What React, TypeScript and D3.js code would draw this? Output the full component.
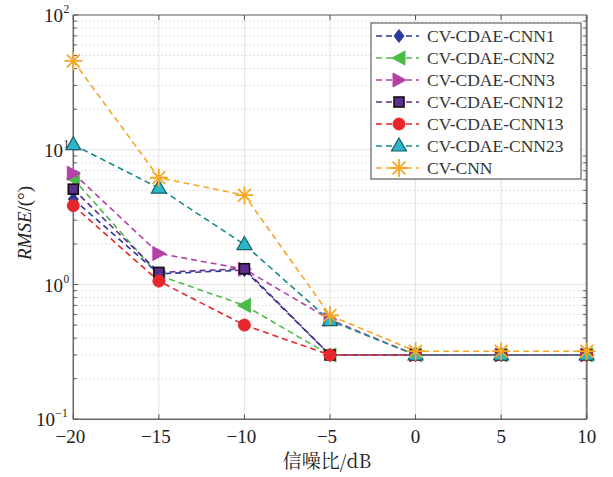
import React from "react";
import * as d3 from "d3";

const snr = [-20, -15, -10, -5, 0, 5, 10];
const seriesNames = [
  "CV-CDAE-CNN1",
  "CV-CDAE-CNN2",
  "CV-CDAE-CNN3",
  "CV-CDAE-CNN12",
  "CV-CDAE-CNN13",
  "CV-CDAE-CNN23",
  "CV-CNN",
];
const cnn1 = [4.3, 1.2, 1.28, 0.3, 0.3, 0.3, 0.3];
const cnn2 = [6.1, 1.17, 0.7, 0.3, 0.3, 0.3, 0.3];
const cnn3 = [6.7, 1.7, 1.3, 0.55, 0.3, 0.3, 0.3];
const cnn12 = [5.1, 1.23, 1.31, 0.3, 0.3, 0.3, 0.3];
const cnn13 = [3.85, 1.06, 0.5, 0.3, 0.3, 0.3, 0.3];
const cnn23 = [10.9, 5.2, 1.98, 0.54, 0.3, 0.3, 0.3];
const cvcnn = [45.6, 6.2, 4.6, 0.59, 0.32, 0.32, 0.32];
const xTicks = [-20, -15, -10, -5, 0, 5, 10];
const yDecades = [-1, 0, 1, 2];

const values = [cnn1, cnn2, cnn3, cnn12, cnn13, cnn23, cvcnn];
const styles = [
  { line: "#2b3a9b", fill: "#2b3a9b", stroke: "#2b3a9b", marker: "diamond" },
  { line: "#4dbb48", fill: "#4dbb48", stroke: "#4dbb48", marker: "left" },
  { line: "#b540a8", fill: "#b540a8", stroke: "#b540a8", marker: "right" },
  { line: "#5b2e8f", fill: "#5b2e8f", stroke: "#111", marker: "square" },
  { line: "#e8272b", fill: "#e8272b", stroke: "#e8272b", marker: "circle" },
  { line: "#178a8c", fill: "#2bb7c8", stroke: "#155e6a", marker: "up" },
  { line: "#f7a625", fill: "none", stroke: "#f7a625", marker: "star" },
];

const W = 613, H = 477;
const L = 73.3, R = 586.7, T = 15, B = 419.3;
const FONT = "Liberation Serif, DejaVu Serif, serif";

function Marker({ type, x, y, s }: any) {
  const st = s;
  if (type === "diamond") {
    const r = 6.5;
    return <path d={`M${x},${y - r}L${x + 5},${y}L${x},${y + r}L${x - 5},${y}Z`} fill={st.fill} stroke={st.stroke} strokeWidth={1} />;
  }
  if (type === "left") {
    return <path d={`M${x - 7},${y}L${x + 6},${y - 7}L${x + 6},${y + 7}Z`} fill={st.fill} stroke={st.stroke} strokeWidth={1} />;
  }
  if (type === "right") {
    return <path d={`M${x + 7},${y}L${x - 6},${y - 7}L${x - 6},${y + 7}Z`} fill={st.fill} stroke={st.stroke} strokeWidth={1} />;
  }
  if (type === "square") {
    return <rect x={x - 5} y={y - 5} width={10} height={10} fill={st.fill} stroke={st.stroke} strokeWidth={1.6} />;
  }
  if (type === "circle") {
    return <circle cx={x} cy={y} r={6} fill={st.fill} stroke={st.stroke} strokeWidth={1} />;
  }
  if (type === "up") {
    return <path d={`M${x},${y - 8}L${x + 7.5},${y + 5}L${x - 7.5},${y + 5}Z`} fill={st.fill} stroke={st.stroke} strokeWidth={1.2} />;
  }
  const r = 9;
  const segs = [0, 45, 90, 135].map((a) => {
    const rad = (a * Math.PI) / 180;
    const dx = r * Math.cos(rad), dy = r * Math.sin(rad);
    return `M${x - dx},${y - dy}L${x + dx},${y + dy}`;
  });
  return <path d={segs.join("")} stroke={st.stroke} strokeWidth={1.8} fill="none" />;
}

export default function App() {
  const x = d3.scaleLinear().domain([-20, 10]).range([L, R]);
  const y = d3.scaleLog().domain([0.1, 100]).range([B, T]);
  const line = d3
    .line<[number, number]>()
    .x((d) => x(d[0]))
    .y((d) => y(d[1]));

  const minor: number[] = [];
  for (let e = -1; e < 2; e++) for (let k = 2; k <= 9; k++) minor.push(k * Math.pow(10, e));

  const legX = 371, legY = 23, legW = 210, legH = 156, rowH = 22;
  const tf = { fontFamily: FONT };

  return (
    <svg width={W} height={H} style={{ position: "absolute", left: 0, top: 0, background: "#fff" }}>
      <rect x={0} y={0} width={W} height={H} fill="#fff" />
      {minor.map((v) => (
        <line key={"mg" + v} x1={L} x2={R} y1={y(v)} y2={y(v)} stroke="#d4d4d4" strokeWidth={1} strokeDasharray="1.5,2.5" />
      ))}
      {yDecades.map((e) => (
        <line key={"yg" + e} x1={L} x2={R} y1={y(Math.pow(10, e))} y2={y(Math.pow(10, e))} stroke="#e3e3e3" strokeWidth={1} />
      ))}
      {xTicks.map((t) => (
        <line key={"xg" + t} x1={x(t)} x2={x(t)} y1={T} y2={B} stroke="#e3e3e3" strokeWidth={1} />
      ))}
      <line x1={L} x2={R} y1={T} y2={T} stroke="#666" strokeWidth={1} />
      <line x1={R} x2={R} y1={T} y2={B} stroke="#777" strokeWidth={2} />
      <line x1={L} x2={L} y1={T} y2={B} stroke="#666" strokeWidth={1.5} />
      <line x1={L} x2={R} y1={B} y2={B} stroke="#666" strokeWidth={1.5} />
      {xTicks.map((t) => (
        <g key={"xt" + t}>
          <line x1={x(t)} x2={x(t)} y1={B} y2={B - 5} stroke="#555" />
          <line x1={x(t)} x2={x(t)} y1={T} y2={T + 5} stroke="#555" />
          <text x={x(t) - (t < 0 ? 3 : 0)} y={443} textAnchor="middle" fontSize={19} fill="#222" style={tf}>
            {t < 0 ? "\u2212" + Math.abs(t) : t}
          </text>
        </g>
      ))}
      {minor.map((v) => (
        <g key={"myt" + v}>
          <line x1={L} x2={L + 3.5} y1={y(v)} y2={y(v)} stroke="#555" />
          <line x1={R} x2={R - 3.5} y1={y(v)} y2={y(v)} stroke="#555" />
        </g>
      ))}
      {yDecades.map((e) => (
        <g key={"yt" + e}>
          <line x1={L} x2={L + 5} y1={y(Math.pow(10, e))} y2={y(Math.pow(10, e))} stroke="#555" />
          <text x={e < 0 ? 55 : 63} y={y(Math.pow(10, e)) + 7} textAnchor="end" fontSize={19} fill="#222" style={tf}>
            10
          </text>
          <text x={e < 0 ? 55.5 : 63.5} y={y(Math.pow(10, e)) - 2} textAnchor="start" fontSize={11.5} fill="#222" style={tf}>
            {e < 0 ? "\u2212" + Math.abs(e) : e}
          </text>
        </g>
      ))}
      <text x={327} y={468} textAnchor="middle" fontSize={19} fill="#222" style={{ fontFamily: "Noto Serif CJK SC, Noto Sans CJK SC, serif" }}>
        信噪比/dB
      </text>
      <text transform={`translate(31,${223}) rotate(-90)`} textAnchor="middle" fontSize={19} fill="#222" style={tf}>
        <tspan fontStyle="italic">RMSE</tspan>
        <tspan>/(°)</tspan>
      </text>
      {values.map((vals, i) => {
        const pts = snr.map((s, j) => [s, vals[j]] as [number, number]);
        return (
          <g key={"s" + i}>
            <path d={line(pts) || ""} fill="none" stroke={styles[i].line} strokeWidth={1.6} strokeDasharray="6,4" />
            {pts.map((p, j) => (
              <Marker key={j} type={styles[i].marker} x={x(p[0])} y={y(p[1])} s={styles[i]} />
            ))}
          </g>
        );
      })}
      <rect x={legX} y={legY} width={legW} height={legH} fill="#fff" stroke="#444" strokeWidth={1} />
      {seriesNames.map((n, i) => {
        const cy = legY + 13 + i * rowH;
        return (
          <g key={"lg" + i}>
            <line x1={376} x2={419} y1={cy} y2={cy} stroke={styles[i].line} strokeWidth={1.6} strokeDasharray="6,4" />
            <Marker type={styles[i].marker} x={399} y={cy} s={styles[i]} />
            <text x={427} y={cy + 6} fontSize={17.5} fill="#333" style={tf}>
              {n}
            </text>
          </g>
        );
      })}
    </svg>
  );
}
